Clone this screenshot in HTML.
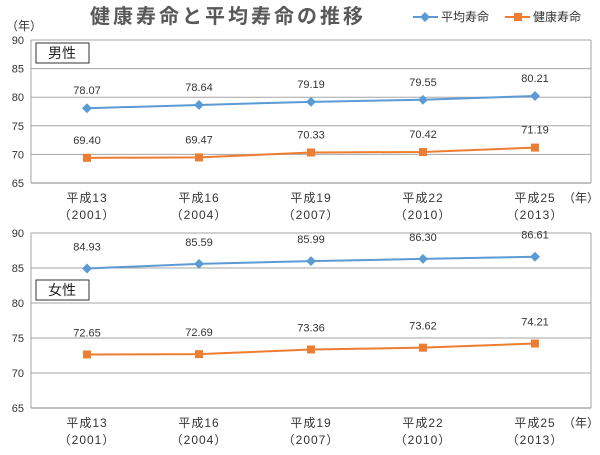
<!DOCTYPE html>
<html><head><meta charset="utf-8"><style>
body{margin:0;background:#fff;font-family:"Liberation Sans","Noto Sans CJK JP",sans-serif}
</style></head><body>
<svg width="600" height="450" xmlns="http://www.w3.org/2000/svg" id="c" font-family="Liberation Sans, Noto Sans CJK JP, sans-serif">
<text x="228" y="23" text-anchor="middle" font-size="20" font-weight="bold" fill="#595959" letter-spacing="3">健康寿命と平均寿命の推移</text>
<g>
<line x1="413" y1="17" x2="438" y2="17" stroke="#5b9bd5" stroke-width="2"/>
<rect x="421.5" y="13.5" width="7" height="7" fill="#5b9bd5" transform="rotate(45 425 17)"/>
<text x="441" y="21" font-size="12" fill="#333">平均寿命</text>
<line x1="505" y1="17" x2="530" y2="17" stroke="#ed7d31" stroke-width="2"/>
<rect x="514" y="13" width="8" height="8" fill="#ed7d31"/>
<text x="533" y="21" font-size="12" fill="#333">健康寿命</text>
</g>
<text x="6" y="30" font-size="12" fill="#333">（年）</text>
<g id="panels"></g>
</svg>
<script>
const categories=["平成13","平成16","平成19","平成22","平成25"];
const yearLabels=["（2001）","（2004）","（2007）","（2010）","（2013）"];
const yTicks=[65,70,75,80,85,90];
const maleAverage=[78.07,78.64,79.19,79.55,80.21];
const maleHealthy=[69.40,69.47,70.33,70.42,71.19];
const femaleAverage=[84.93,85.59,85.99,86.30,86.61];
const femaleHealthy=[72.65,72.69,73.36,73.62,74.21];
const NS="http://www.w3.org/2000/svg";
const root=document.getElementById('panels');
function mk(t,a,p){const e=document.createElementNS(NS,t);for(const k in a)e.setAttribute(k,a[k]);(p||root).appendChild(e);return e;}
function panel(name,label,top,bottom,avg,hl,labY,boxY,xlabY){
 const L=31,R=591,W=R-L;
 const g=mk('g',{});
 
 
 const y=v=>bottom-(v-65)/25*(bottom-top);
 const x=i=>L+W/categories.length*(i+0.5);
 yTicks.forEach(t=>{
  const ln=mk('line',{x1:L,x2:R,y1:y(t),y2:y(t),stroke:t===65?'#808080':'#a6a6a6','stroke-width':1},g);
  
  
  const tx=mk('text',{x:24,y:y(t)+4,'text-anchor':'end','font-size':11,fill:'#333'},g);
  tx.textContent=t;
  
  
 });
 mk('line',{x1:L,x2:L,y1:top,y2:bottom,stroke:'#a6a6a6'},g);
 mk('line',{x1:R,x2:R,y1:top,y2:bottom,stroke:'#a6a6a6'},g);
 const bx=mk('rect',{x:36,y:boxY,width:53,height:20,fill:'#fff',stroke:'#333'},g);
 
 
 const bt=mk('text',{x:62,y:boxY+15,'text-anchor':'middle','font-size':14,fill:'#222'},g);
 bt.textContent=label;
 
 
 [[avg,'#5b9bd5','average'],[hl,'#ed7d31','healthy']].forEach(([d,c,n])=>{
  const pl=mk('polyline',{points:d.map((v,i)=>x(i)+','+y(v)).join(' '),fill:'none',stroke:c,'stroke-width':2},g);
  
  
  d.forEach((v,i)=>{
   let m;
   if(n==='average')m=mk('rect',{x:x(i)-3.5,y:y(v)-3.5,width:7,height:7,fill:c,transform:`rotate(45 ${x(i)} ${y(v)})`},g);
   else m=mk('rect',{x:x(i)-4,y:y(v)-4,width:8,height:8,fill:c},g);
   
   
   const t=mk('text',{x:x(i),y:y(v)-labY,'text-anchor':'middle','font-size':11,fill:'#333'},g);
   t.textContent=v.toFixed(2);
   
   
  });
 });
 categories.forEach((c,i)=>{
  const t=mk('text',{x:x(i),y:xlabY,'text-anchor':'middle','font-size':12,fill:'#333','letter-spacing':1},g);
  t.textContent=c;
  
  
  const t2=mk('text',{x:x(i),y:xlabY+17,'text-anchor':'middle','font-size':12,fill:'#333','letter-spacing':1},g);
  t2.textContent=yearLabels[i];
  
  
 });
 const u=mk('text',{x:563,y:xlabY,'font-size':12,fill:'#333'},g);
 u.textContent='（年）';
 
 
}
panel('male-panel','男性',40,183,maleAverage,maleHealthy,14,43,202);
panel('female-panel','女性',233,408,femaleAverage,femaleHealthy,18,280,427);
</script>
</body></html>
